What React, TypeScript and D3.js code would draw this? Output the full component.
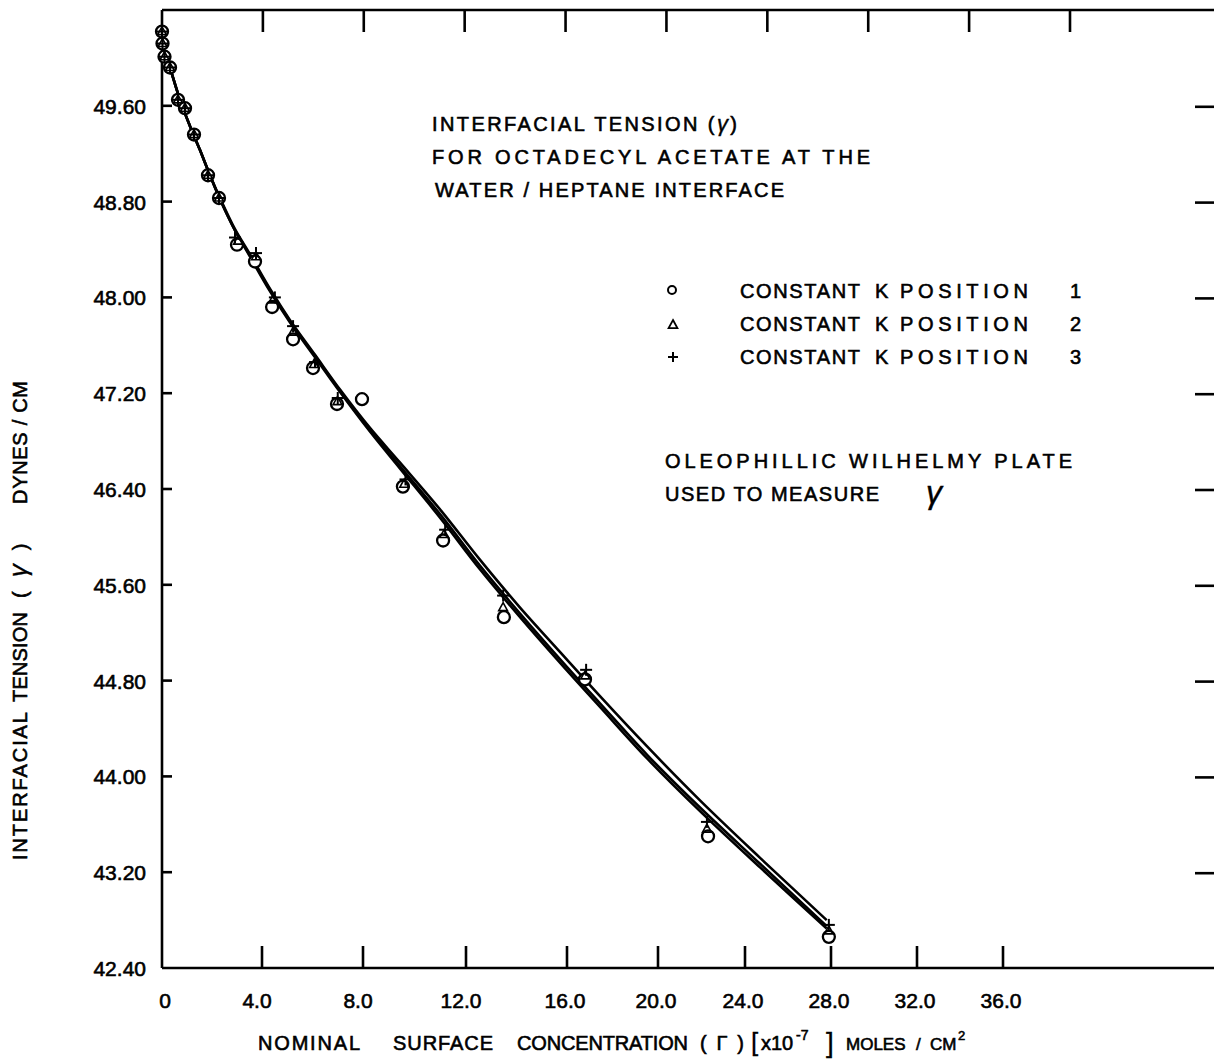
import React from 'react';
import * as d3 from 'd3';

// ---- axis ticks ----
const X_TICKS = [0, 4, 8, 12, 16, 20, 24, 28, 32, 36];
const X_TICK_LABELS = ['0', '4.0', '8.0', '12.0', '16.0', '20.0', '24.0', '28.0', '32.0', '36.0'];
const Y_TICKS = [42.4, 43.2, 44.0, 44.8, 45.6, 46.4, 47.2, 48.0, 48.8, 49.6];
const Y_TICK_LABELS = ['42.40', '43.20', '44.00', '44.80', '45.60', '46.40', '47.20', '48.00', '48.80', '49.60'];
const TOP_TICKS = [4, 8, 12, 16, 20, 24, 28, 32, 36];

// ---- measured points: constant K position 1 (circles) ----
const POS1_X = [0.0, 0.02, 0.1, 0.32, 0.64, 0.92, 1.28, 1.84, 2.28, 3.0, 3.72, 4.4, 5.23, 6.02, 6.97, 7.96, 9.55, 11.11, 13.5, 16.79, 22.3, 27.9];
const POS1_Y = [50.22, 50.12, 50.01, 49.92, 49.65, 49.58, 49.36, 49.02, 48.83, 48.44, 48.3, 47.92, 47.65, 47.41, 47.11, 47.15, 46.42, 45.97, 45.33, 44.81, 43.5, 42.66];
// ---- position 2 (triangles) ----
const POS2_X = [0.0, 0.02, 0.1, 0.32, 0.64, 0.92, 1.28, 1.84, 2.28, 3.04, 3.76, 4.44, 5.23, 6.06, 6.99, 9.6, 11.15, 13.47, 16.8, 22.25, 27.9];
const POS2_Y = [50.22, 50.12, 50.01, 49.92, 49.65, 49.58, 49.36, 49.02, 48.83, 48.47, 48.34, 47.98, 47.71, 47.44, 47.13, 46.44, 46.02, 45.41, 44.84, 43.56, 42.71];
// ---- position 3 (plus) ----
const POS3_X = [0.0, 0.02, 0.1, 0.32, 0.64, 0.92, 1.28, 1.84, 2.28, 2.92, 3.76, 4.51, 5.23, 6.1, 7.0, 9.65, 11.19, 13.47, 16.84, 22.25, 27.9];
const POS3_Y = [50.22, 50.12, 50.01, 49.92, 49.65, 49.58, 49.36, 49.02, 48.83, 48.5, 48.37, 48.0, 47.76, 47.46, 47.16, 46.48, 46.06, 45.51, 44.89, 43.62, 42.76];

// ---- fitted curves ----
const FIT_X = [0.32, 0.72, 1.12, 1.52, 1.92, 2.32, 2.92, 3.52, 4.32, 5.11, 6.1, 7.09, 8.27, 9.44, 11.03, 12.55, 14.14, 15.72, 17.45, 19.52, 21.93, 24.7, 27.8];
const FIT1_Y = [49.92, 49.65, 49.43, 49.23, 49.02, 48.82, 48.56, 48.34, 48.05, 47.79, 47.5, 47.21, 46.88, 46.57, 46.15, 45.73, 45.33, 44.95, 44.58, 44.15, 43.71, 43.24, 42.73];
const FIT2_Y = [49.92, 49.65, 49.43, 49.23, 49.02, 48.82, 48.56, 48.35, 48.06, 47.8, 47.51, 47.22, 46.89, 46.59, 46.18, 45.76, 45.36, 44.98, 44.61, 44.18, 43.74, 43.27, 42.75];
const FIT3_Y = [49.92, 49.65, 49.43, 49.23, 49.02, 48.83, 48.57, 48.36, 48.07, 47.81, 47.52, 47.23, 46.91, 46.62, 46.22, 45.81, 45.41, 45.04, 44.67, 44.25, 43.8, 43.32, 42.8];

const LEGEND_LABELS = ['1', '2', '3'];

const FONT = "'Liberation Sans', Arial, Helvetica, sans-serif";

export default function App() {
  const W = 1214;
  const H = 1061;
  const x = d3.scaleLinear()
    .domain([0, 4, 8, 12, 16, 20, 24, 28, 32, 36, 40])
    .range([162, 262, 363, 466, 567, 658, 745, 831, 917, 1003, 1089]);
  const xTop = d3.scaleLinear().domain([0, 36]).range([162, 1070]);
  const y = d3.scaleLinear().domain([42.4, 50.4]).range([968, 10]);

  const line = d3.line<[number, number]>()
    .x((d) => x(d[0]))
    .y((d) => y(d[1]))
    .curve(d3.curveCatmullRom.alpha(0.5));

  const fits = [FIT1_Y, FIT2_Y, FIT3_Y].map((ys) => FIT_X.map((v, i) => [v, ys[i]] as [number, number]));

  const txt = { fontFamily: FONT, fontSize: 20, fill: '#000', stroke: '#000', strokeWidth: 0.6 } as const;

  const tri = (cx: number, cy: number, s: number) =>
    `M${cx},${cy - s * 0.62} L${cx + s * 0.55},${cy + s * 0.38} L${cx - s * 0.55},${cy + s * 0.38} Z`;

  const yWord = (word: string, yStart: number, len: number, key: string) => (
    <text key={key} transform={`translate(27,${yStart}) rotate(-90)`} {...txt} textLength={len} lengthAdjust="spacing">
      {word}
    </text>
  );

  return (
    <svg width={W} height={H} style={{ position: 'absolute', left: 0, top: 0, background: '#fff' }}>
      <rect x={0} y={0} width={W} height={H} fill="#fff" />
      {/* frame */}
      <g stroke="#000" strokeWidth={2.6} fill="none">
        <line x1={162} y1={10} x2={W} y2={10} />
        <line x1={162} y1={10} x2={162} y2={968} />
        <line x1={162} y1={968} x2={W} y2={968} />
        {TOP_TICKS.map((t) => (
          <line key={'tt' + t} x1={xTop(t)} x2={xTop(t)} y1={10} y2={32} />
        ))}
        {X_TICKS.filter((t) => t > 0).map((t) => (
          <line key={'bt' + t} x1={x(t)} x2={x(t)} y1={968} y2={946} />
        ))}
        {Y_TICKS.filter((t) => t > 42.4).map((t) => (
          <line key={'lt' + t} x1={162} x2={172} y1={y(t)} y2={y(t)} />
        ))}
        {Y_TICKS.filter((t) => t > 42.4).map((t) => (
          <line key={'rt' + t} x1={1195} x2={W} y1={y(t) + 1} y2={y(t) + 1} />
        ))}
      </g>

      {/* tick labels */}
      {X_TICKS.map((t, i) => (
        <text key={'xl' + t} x={x(t) - (t === 0 ? -3 : t < 16 ? 5 : 2)} y={1008} textAnchor="middle" {...txt} fontSize={21}>
          {X_TICK_LABELS[i]}
        </text>
      ))}
      {Y_TICKS.map((t, i) => (
        <text key={'yl' + t} x={146} y={y(t) + 8} textAnchor="end" {...txt} fontSize={21}>
          {Y_TICK_LABELS[i]}
        </text>
      ))}

      {/* fitted curves */}
      {fits.map((f, i) => (
        <path key={'fit' + i} d={line(f) || ''} fill="none" stroke="#000" strokeWidth={2.6} />
      ))}

      {/* points */}
      <g fill="none" stroke="#000">
        {POS1_X.map((v, i) => (
          <circle key={'p1' + i} cx={x(v)} cy={y(POS1_Y[i])} r={6} strokeWidth={2.3} fill="#fff" />
        ))}
        {POS2_X.map((v, i) => (
          <path key={'p2' + i} d={tri(x(v), y(POS2_Y[i]), 8)} strokeWidth={1.6} />
        ))}
        {POS3_X.map((v, i) => (
          <g key={'p3' + i} strokeWidth={2}>
            <line x1={x(v) - 6} x2={x(v) + 6} y1={y(POS3_Y[i])} y2={y(POS3_Y[i])} />
            <line x1={x(v)} x2={x(v)} y1={y(POS3_Y[i]) - 6} y2={y(POS3_Y[i]) + 6} />
          </g>
        ))}
      </g>

      {/* title block */}
      <text x={432} y={131} {...txt} letterSpacing={2.4}>
        INTERFACIAL TENSION (
        <tspan fontStyle="italic" fontSize={22} strokeWidth={0.4}>γ</tspan>
        )
      </text>
      <text x={432} y={164} {...txt} textLength={438} lengthAdjust="spacing">FOR  OCTADECYL  ACETATE  AT  THE</text>
      <text x={435} y={197} {...txt} textLength={349} lengthAdjust="spacing">WATER / HEPTANE  INTERFACE</text>

      {/* legend */}
      <g stroke="#000" fill="none">
        <circle cx={672} cy={290} r={4} strokeWidth={2} />
        <path d={tri(673, 325, 8)} strokeWidth={1.8} />
        <line x1={668} x2={678} y1={357} y2={357} strokeWidth={2} />
        <line x1={673} x2={673} y1={352} y2={362} strokeWidth={2} />
      </g>
      {LEGEND_LABELS.map((lab, i) => (
        <g key={'lg' + i}>
          <text x={740} y={298 + i * 33} {...txt} textLength={120} lengthAdjust="spacing">CONSTANT</text>
          <text x={875} y={298 + i * 33} {...txt}>K</text>
          <text x={900} y={298 + i * 33} {...txt} textLength={128} lengthAdjust="spacing">POSITION</text>
          <text x={1070} y={298 + i * 33} {...txt}>{lab}</text>
        </g>
      ))}

      {/* plate note */}
      <text x={665} y={468} {...txt} textLength={407} lengthAdjust="spacing">OLEOPHILLIC  WILHELMY  PLATE</text>
      <text x={665} y={501} {...txt} textLength={214} lengthAdjust="spacing">USED  TO  MEASURE</text>
      <text x={926} y={503} {...txt} fontSize={32} fontStyle="italic" strokeWidth={0.4}>γ</text>

      {/* x title */}
      <text x={258} y={1050} {...txt} textLength={102} lengthAdjust="spacing">NOMINAL</text>
      <text x={393} y={1050} {...txt} textLength={100} lengthAdjust="spacing">SURFACE</text>
      <text x={517} y={1050} {...txt} textLength={171} lengthAdjust="spacing">CONCENTRATION</text>
      <text x={700} y={1050} {...txt} textLength={44} lengthAdjust="spacing">( Γ )</text>
      <text x={751} y={1051} {...txt} fontSize={26} strokeWidth={0.3}>[</text>
      <text x={761} y={1050} {...txt}>x10</text>
      <text x={796} y={1040} {...txt} fontSize={14}>-7</text>
      <text x={826} y={1052} {...txt} fontSize={28} strokeWidth={0.3}>]</text>
      <text x={846} y={1050} {...txt} fontSize={17}>MOLES</text>
      <text x={916} y={1050} {...txt} fontSize={17}>/</text>
      <text x={930} y={1050} {...txt} fontSize={17}>CM</text>
      <text x={958} y={1040} {...txt} fontSize={13}>2</text>

      {/* y title */}
      {yWord('INTERFACIAL', 860, 148, 'yw1')}
      {yWord('TENSION', 702, 90, 'yw2')}
      <text transform="translate(27,598) rotate(-90)" {...txt}>
        (<tspan dx={14} fontSize={26} fontStyle="italic" strokeWidth={0.3}>γ</tspan><tspan dx={14}>)</tspan>
      </text>
      {yWord('DYNES / CM', 504, 123, 'yw4')}
    </svg>
  );
}
